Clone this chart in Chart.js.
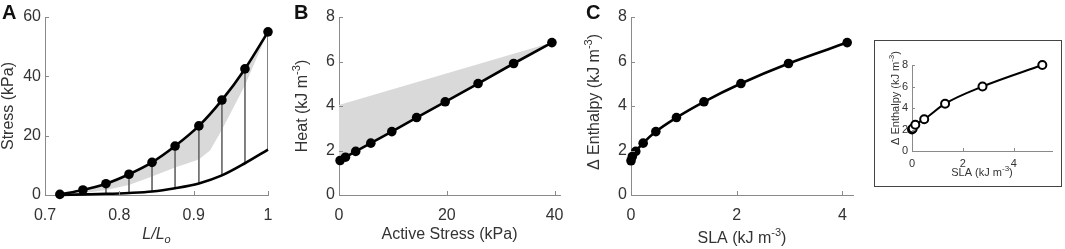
<!DOCTYPE html>
<html>
<head>
<meta charset="utf-8">
<script src="https://cdn.jsdelivr.net/npm/chart.js@4.4.1/dist/chart.umd.min.js"></script>
<style>
  body { margin: 0; background: #fff; width: 1065px; height: 249px; position: relative; overflow: hidden;
         font-family: "Liberation Sans", Arial, sans-serif; }
  .panel { position: absolute; top: 0; width: 290px; height: 249px; }
  .letter { position: absolute; top: 0; font-size: 20px; font-weight: bold; line-height: 24px; color: #111; }
  #insetBox { position: absolute; left: 874px; top: 40px; width: 186px; height: 145px; border: 1px solid #444; }
  #insetBox .holder { position: absolute; left: 0; top: 0; width: 186px; height: 145px; }
</style>
</head>
<body>
<div class="panel" style="left:0"><canvas id="chartA"></canvas></div>
<div class="panel" style="left:290px"><canvas id="chartB"></canvas></div>
<div class="panel" style="left:580px"><canvas id="chartC"></canvas></div>
<div id="insetBox"><div class="holder"><canvas id="chartInset"></canvas></div></div>
<div class="letter" style="left:2px">A</div>
<div class="letter" style="left:294px">B</div>
<div class="letter" style="left:586px">C</div>
<script>
// Panel A: stress vs relative length
const lengthA = [0.72, 0.751, 0.782, 0.813, 0.844, 0.875, 0.907, 0.938, 0.969, 1.0];
const totalStressA = [0.2, 1.7, 3.8, 7.0, 11.0, 16.5, 23.3, 32.0, 42.5, 55.0];
const passiveStressA = [0, 0.2, 0.4, 0.7, 1.2, 2.3, 3.9, 6.6, 10.7, 15.3];
// grey band (outline, read clockwise)
const shadeLenA = [0.751, 0.782, 0.813, 0.844, 0.875, 0.907, 0.938, 0.969, 1.0,
                   0.969, 0.938, 0.922, 0.907, 0.875, 0.844, 0.813, 0.782, 0.751];
const shadeStressA = [1.7, 3.8, 7.0, 11.0, 16.5, 23.3, 32.0, 42.5, 55.0,
                      37.0, 22.0, 15.0, 12.0, 9.3, 6.2, 3.4, 1.7, 0.6];
const xTicksA = [0.7, 0.8, 0.9, 1];
const yTicksA = [0, 20, 40, 60];

// Panel B: heat vs active stress
const activeStressB = [0.2, 1.2, 3.1, 5.9, 9.8, 14.4, 19.7, 25.8, 32.4, 39.5];
const heatB = [1.55, 1.7, 1.96, 2.33, 2.85, 3.48, 4.19, 5.01, 5.91, 6.85];
const shadeStressB = [0, 0, 39.5];
const shadeHeatB = [1.55, 4.05, 6.85];
const xTicksB = [0, 20, 40];
const yTicksB = [0, 2, 4, 6, 8];

// Panel C: enthalpy vs SLA
const slaC = [0, 0.025, 0.09, 0.23, 0.47, 0.86, 1.38, 2.08, 2.98, 4.09];
const enthalpyC = [1.54, 1.73, 1.96, 2.33, 2.85, 3.48, 4.19, 5.01, 5.91, 6.85];
const xTicksC = [0, 2, 4];
const yTicksC = [0, 2, 4, 6, 8];

// Inset
const slaInset = [0, 0.03, 0.13, 0.48, 1.3, 2.77, 5.12];
const enthalpyInset = [2.0, 2.1, 2.45, 2.95, 4.4, 6.0, 8.0];
const xTicksInset = [0, 2, 4];
const yTicksInset = [0, 2, 4, 6, 8];

const FONT = '"Liberation Sans", Arial, sans-serif';
const TEXT = '#333333';
const AXIS = '#8a8a8a';
const SHADE = '#d9d9d9';

const pts = (xs, ys) => xs.map((x, i) => ({x: x, y: ys[i]}));

// draws an axis title that may hold superscripts / subscripts / italics
function drawRich(ctx, parts, cx, cy, angle, size) {
    ctx.save();
    ctx.translate(cx, cy);
    ctx.rotate(angle);
    ctx.textBaseline = 'middle';
    ctx.fillStyle = TEXT;
    const fontFor = p => (p[1] && p[1].includes('it') ? 'italic ' : '') +
        Math.round(p[1] && (p[1].includes('sup') || p[1].includes('sub')) ? size * 0.7 : size) + 'px ' + FONT;
    let total = 0;
    parts.forEach(p => { ctx.font = fontFor(p); total += ctx.measureText(p[0]).width; });
    let x = -total / 2;
    parts.forEach(p => {
        ctx.font = fontFor(p);
        let dy = 0;
        if (p[1] && p[1].includes('sup')) dy = -size * 0.38;
        if (p[1] && p[1].includes('sub')) dy = size * 0.32;
        ctx.fillText(p[0], x, dy);
        x += ctx.measureText(p[0]).width;
    });
    ctx.restore();
}

const richTitles = {
    id: 'richTitles',
    afterDraw(chart, args, o) {
        const a = chart.chartArea;
        if (o.x) drawRich(chart.ctx, o.x, (a.left + a.right) / 2, a.bottom + o.xGap, 0, o.size);
        if (o.y) drawRich(chart.ctx, o.y, a.left - o.yGap, (a.top + a.bottom) / 2 + (o.yShift || 0), -Math.PI / 2, o.size);
    }
};

// small ticks pointing into the plot
const inwardTicks = {
    id: 'inwardTicks',
    afterDraw(chart, args, o) {
        const {ctx, chartArea: a, scales} = chart;
        const len = o.len || 4;
        ctx.save();
        ctx.strokeStyle = AXIS;
        ctx.lineWidth = 1;
        ctx.beginPath();
        scales.x.ticks.forEach(t => {
            const px = Math.round(scales.x.getPixelForValue(t.value)) + 0.5;
            ctx.moveTo(px, a.bottom);
            ctx.lineTo(px, a.bottom - len);
        });
        scales.y.ticks.forEach(t => {
            const py = Math.round(scales.y.getPixelForValue(t.value)) + 0.5;
            ctx.moveTo(a.left, py);
            ctx.lineTo(a.left + len, py);
        });
        ctx.stroke();
        ctx.restore();
    }
};

function scaleOpts(min, max, ticks, fit, fontSize, pad, isX) {
    return {
        type: 'linear',
        min: min,
        max: max,
        afterBuildTicks: s => { s.ticks = ticks.map(v => ({value: v})); },
        afterFit: s => { if (isX) s.height = fit; else s.width = fit; },
        grid: { display: true, drawOnChartArea: false, drawTicks: false },
        border: { display: true, color: AXIS, width: 1 },
        ticks: {
            autoSkip: false, maxRotation: 0, padding: pad, color: TEXT,
            font: { family: FONT, size: fontSize },
            callback: v => String(v)
        }
    };
}

function makeChart(id, datasets, o) {
    return new Chart(document.getElementById(id), {
        type: 'line',
        data: { datasets: datasets },
        options: {
            responsive: true,
            maintainAspectRatio: false,
            animation: false,
            events: [],
            layout: { padding: { left: 0, right: o.right, top: o.top, bottom: 0 } },
            scales: {
                x: scaleOpts(o.xMin, o.xMax, o.xTicks, o.xHeight, o.tickSize, o.xPad, true),
                y: scaleOpts(o.yMin, o.yMax, o.yTicks, o.yWidth, o.tickSize, o.yPad, false)
            },
            plugins: {
                legend: { display: false },
                tooltip: { enabled: false },
                richTitles: o.titles,
                inwardTicks: { len: o.tickLen }
            }
        },
        plugins: [richTitles, inwardTicks]
    });
}

const dotStyle = { pointRadius: 4.8, pointBackgroundColor: '#000', pointBorderWidth: 0, clip: false };

// drop lines from total to passive stress, each broken by a gap
const dropLinesA = [];
lengthA.forEach((L, i) => {
    dropLinesA.push({x: L, y: totalStressA[i]}, {x: L, y: passiveStressA[i]}, {x: L, y: null});
});

makeChart('chartA', [
    Object.assign({ data: pts(lengthA, totalStressA), borderColor: '#000', borderWidth: 2.6,
        cubicInterpolationMode: 'monotone', order: 0 }, dotStyle),
    { data: pts(lengthA, passiveStressA), borderColor: '#000', borderWidth: 2.6, pointRadius: 0,
        cubicInterpolationMode: 'monotone', order: 1, clip: false },
    { data: dropLinesA, borderColor: '#6e6e6e', borderWidth: 1, pointRadius: 0, spanGaps: false, order: 2 },
    { data: pts(shadeLenA, shadeStressA), borderWidth: 0, pointRadius: 0, fill: 'shape',
        backgroundColor: SHADE, order: 3 }
], {
    xMin: 0.7, xMax: 1, xTicks: xTicksA, yMin: 0, yMax: 60, yTicks: yTicksA,
    yWidth: 45, xHeight: 54, right: 22, top: 17, tickSize: 16, xPad: 11, yPad: 4, tickLen: 4,
    titles: { size: 16, xGap: 40, yGap: 36,
        x: [['L/L', 'it'], ['o', 'it sub']],
        y: [['Stress (kPa)']] }
});

makeChart('chartB', [
    Object.assign({ data: pts(activeStressB, heatB), borderColor: '#000', borderWidth: 2.6, order: 0 }, dotStyle),
    { data: pts(shadeStressB, shadeHeatB), borderWidth: 0, pointRadius: 0, fill: 'shape',
        backgroundColor: SHADE, order: 1 }
], {
    xMin: 0, xMax: 41, xTicks: xTicksB, yMin: 0, yMax: 8, yTicks: yTicksB,
    yWidth: 49, xHeight: 54, right: 20, top: 17, tickSize: 16, xPad: 11, yPad: 4, tickLen: 4,
    titles: { size: 16, xGap: 40, yGap: 36,
        x: [['Active Stress (kPa)']],
        y: [['Heat (kJ m'], ['-3', 'sup'], [')']] }
});

makeChart('chartC', [
    Object.assign({ data: pts(slaC, enthalpyC), borderColor: '#000', borderWidth: 2.6,
        cubicInterpolationMode: 'monotone' }, dotStyle)
], {
    xMin: 0, xMax: 4.2, xTicks: xTicksC, yMin: 0, yMax: 8, yTicks: yTicksC,
    yWidth: 51, xHeight: 54, right: 17, top: 17, tickSize: 16, xPad: 11, yPad: 4, tickLen: 4,
    titles: { size: 16, xGap: 44, yGap: 36, yShift: -4,
        x: [['SLA (kJ m'], ['-3', 'sup'], [')']],
        y: [['\u0394 Enthalpy (kJ m'], ['-3', 'sup'], [')']] }
});

makeChart('chartInset', [
    { data: pts(slaInset, enthalpyInset), borderColor: '#000', borderWidth: 2,
        cubicInterpolationMode: 'monotone', pointRadius: 4, pointBorderWidth: 2,
        pointBorderColor: '#000', pointBackgroundColor: '#fff', clip: false }
], {
    xMin: 0, xMax: 5.5, xTicks: xTicksInset, yMin: 0, yMax: 8, yTicks: yTicksInset,
    yWidth: 37, xHeight: 35, right: 9, top: 24, tickSize: 11, xPad: 6, yPad: 4, tickLen: 3,
    titles: { size: 11, xGap: 22, yGap: 16, yShift: -10,
        x: [['SLA (kJ m'], ['-3', 'sup'], [')']],
        y: [['\u0394 Enthalpy (kJ m'], ['-3', 'sup'], [')']] }
});
</script>
</body>
</html>
